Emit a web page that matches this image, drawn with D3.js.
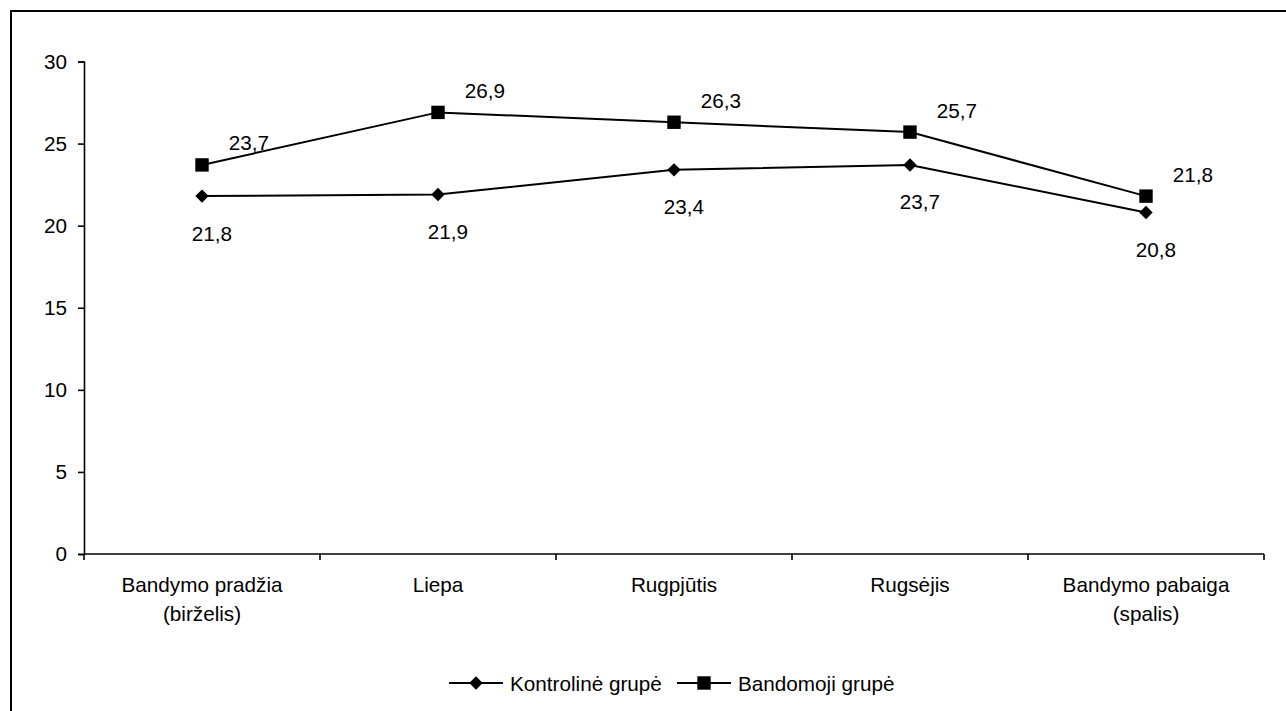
<!DOCTYPE html>
<html>
<head>
<meta charset="utf-8">
<script src="https://cdn.jsdelivr.net/npm/d3@7"></script>
<style>
  html, body { margin: 0; padding: 0; background: #fff; }
  svg { display: block; }
  text { font-family: "Liberation Sans", Arial, sans-serif; fill: #000; }
</style>
</head>
<body>
<script>
const categories = ["Bandymo pradžia\n(birželis)", "Liepa", "Rugpjūtis", "Rugsėjis", "Bandymo pabaiga\n(spalis)"];
const kontroline = [21.8, 21.9, 23.4, 23.7, 20.8];
const bandomoji = [23.7, 26.9, 26.3, 25.7, 21.8];
const seriesNames = ["Kontrolinė grupė", "Bandomoji grupė"];
const yTicks = [0, 5, 10, 15, 20, 25, 30];

const W = 1286, H = 711;
const FS = 20.7;
const svg = d3.select("body").append("svg").attr("width", W).attr("height", H);

// outer frame (extends past right/bottom edges)
svg.append("rect").attr("x", 11).attr("y", 11).attr("width", W + 20).attr("height", H + 20)
  .attr("fill", "none").attr("stroke", "#000").attr("stroke-width", 2);

const x = d3.scaleBand().domain(categories).range([84, 1264]).padding(0);
const y = d3.scaleLinear().domain([0, 30]).range([554, 61.5]);

// Y axis
const yAxis = d3.axisLeft(y).tickValues(yTicks).tickSize(6).tickPadding(11).tickFormat(d => String(d));
const gy = svg.append("g").attr("transform", "translate(84,0)").call(yAxis);
gy.select(".domain").attr("stroke", "#000").attr("stroke-width", 1.6);
gy.selectAll(".tick line").attr("stroke", "#000").attr("stroke-width", 1.6);
gy.selectAll(".tick text").attr("font-size", FS).attr("font-family", "Liberation Sans, Arial, sans-serif").attr("fill", "#000");

// X axis (ticks between categories)
const gx = svg.append("g").attr("transform", `translate(0,${y(0)})`);
gx.append("line").attr("x1", x.range()[0]).attr("x2", x.range()[1]).attr("y1", 0).attr("y2", 0)
  .attr("stroke", "#000").attr("stroke-width", 1.6);
const bounds = categories.map(c => x(c)).concat([x.range()[1]]);
gx.selectAll(".bt").data(bounds).join("line").attr("class", "bt")
  .attr("x1", d => d).attr("x2", d => d).attr("y1", 0).attr("y2", 6)
  .attr("stroke", "#000").attr("stroke-width", 1.6);
const cl = gx.selectAll(".cl").data(categories).join("text").attr("class", "cl")
  .attr("text-anchor", "middle").attr("font-size", FS)
  .attr("transform", d => `translate(${x(d) + x.bandwidth() / 2},0)`);
cl.each(function (d) {
  const lines = d.split("\n");
  d3.select(this).selectAll("tspan").data(lines).join("tspan")
    .attr("x", 0).attr("y", (l, i) => 38 + i * 29).text(l => l);
});

const cx = c => x(c) + x.bandwidth() / 2;
const fmt = v => v.toFixed(1).replace(".", ",");
const line = d3.line().x((d, i) => cx(categories[i])).y(d => y(d));

// square-shaped diamond (rotated square)
const rhombus = {
  draw(ctx, size) {
    const r = Math.sqrt(size / 2);
    ctx.moveTo(0, -r); ctx.lineTo(r, 0); ctx.lineTo(0, r); ctx.lineTo(-r, 0); ctx.closePath();
  }
};
const diamond = d3.symbol().type(rhombus).size(90);
const square = d3.symbol().type(d3.symbolSquare).size(180);

function drawSeries(vals, sym, ldx, ldy) {
  const g = svg.append("g");
  g.append("path").datum(vals).attr("d", line).attr("fill", "none").attr("stroke", "#000").attr("stroke-width", 2);
  g.selectAll(".m").data(vals).join("path").attr("class", "m")
    .attr("d", sym).attr("fill", "#000")
    .attr("transform", (d, i) => `translate(${cx(categories[i])},${y(d)})`);
  g.selectAll(".lb").data(vals).join("text").attr("class", "lb")
    .attr("text-anchor", "middle").attr("dominant-baseline", "central").attr("font-size", FS)
    .attr("x", (d, i) => cx(categories[i]) + ldx).attr("y", d => y(d) + ldy)
    .text(fmt);
}
drawSeries(kontroline, diamond, 10, 37);
drawSeries(bandomoji, square, 47, -22);

// Legend
const legend = svg.append("g").attr("transform", "translate(0,683)");
const legendItems = [
  { name: seriesNames[0], sym: diamond, x0: 449 },
  { name: seriesNames[1], sym: square, x0: 677 }
];
legendItems.forEach(it => {
  const g = legend.append("g").attr("transform", `translate(${it.x0},0)`);
  g.append("line").attr("x1", 0).attr("x2", 54).attr("y1", 0).attr("y2", 0).attr("stroke", "#000").attr("stroke-width", 2);
  g.append("path").attr("d", it.sym).attr("fill", "#000").attr("transform", "translate(27,0)");
  g.append("text").attr("x", 61).attr("y", 0).attr("dominant-baseline", "central").attr("font-size", FS).text(it.name);
});
</script>
</body>
</html>
